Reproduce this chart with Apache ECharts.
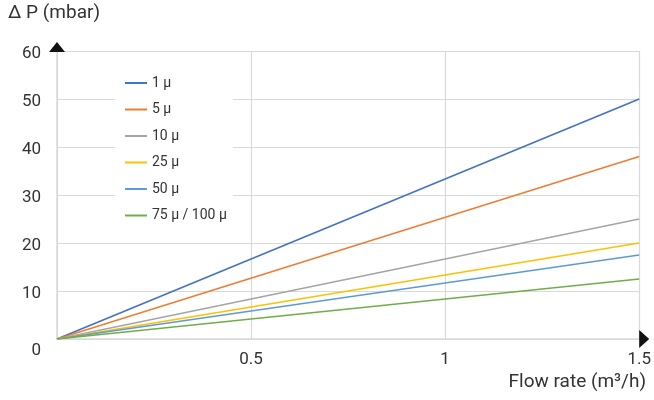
<!DOCTYPE html>
<html><head><meta charset="utf-8">
<script src="https://cdn.jsdelivr.net/npm/echarts@6/dist/echarts.min.js"></script>
<style>html,body{margin:0;padding:0;background:#fff}#c{width:654px;height:400px}</style>
</head><body><div id="c"></div>
<script>
const seriesNames = ['1 µ', '5 µ', '10 µ', '25 µ', '50 µ', '75 µ / 100 µ'];
const flowRates = [0, 1.5];
const dp1 = [0, 50];
const dp5 = [0, 38];
const dp10 = [0, 25];
const dp25 = [0, 20];
const dp50 = [0, 17.5];
const dp75 = [0, 12.5];
const xTicks = [0, 0.5, 1, 1.5];
const yTicks = [0, 10, 20, 30, 40, 50, 60];
const colors = ['#4472C4', '#ED7D31', '#A5A5A5', '#FFC000', '#5B9BD5', '#70AD47'];
const allData = [dp1, dp5, dp10, dp25, dp50, dp75];

const FONT = 'Roboto';
const chart = echarts.init(document.getElementById('c'));
const option = {
  animation: false,
  grid: {left: 57, right: 13, top: 51, bottom: 61, containLabel: false},
  xAxis: {
    type: 'value', min: xTicks[0], max: xTicks[xTicks.length - 1], interval: 0.5,
    axisLine: {show: true, lineStyle: {color: '#d9d9d9', width: 1.5}},
    axisTick: {show: false},
    splitLine: {show: true, lineStyle: {color: '#d9d9d9', width: 1.2}},
    axisLabel: {color: '#333', fontSize: 17, fontFamily: FONT, margin: 12,
      formatter: v => v === 0 ? '' : String(v)}
  },
  yAxis: {
    type: 'value', min: yTicks[0], max: yTicks[yTicks.length - 1], interval: 10,
    axisLine: {show: true, lineStyle: {color: '#d9d9d9', width: 1.5}},
    axisTick: {show: false},
    splitLine: {show: true, lineStyle: {color: '#d9d9d9', width: 1.2}},
    axisLabel: {color: '#333', fontSize: 17, fontFamily: FONT, margin: 16,
      formatter: v => v === 0 ? '{z|0}' : '{n|' + v + '}',
      rich: {
        z: {fontSize: 17, fontFamily: FONT, color: '#333', padding: [24, 0, 0, 0]},
        n: {fontSize: 17, fontFamily: FONT, color: '#333', padding: [5, 0, 0, 0]}
      }}
  },
  legend: {
    orient: 'vertical', left: 115, top: 73,
    padding: [3, 6, 3, 10], itemGap: 12.5,
    backgroundColor: '#fff',
    itemWidth: 22, itemHeight: 2, icon: 'rect',
    textStyle: {color: '#333', fontSize: 14, fontFamily: FONT},
    data: seriesNames
  },
  series: seriesNames.map((n, i) => ({
    name: n, type: 'line', symbol: 'none', showSymbol: false,
    lineStyle: {width: 1.6, color: colors[i]}, itemStyle: {color: colors[i]},
    data: flowRates.map((x, j) => [x, allData[i][j]])
  })),
  graphic: []
};
chart.setOption(option);
const pO = chart.convertToPixel({gridIndex: 0}, [0, 0]);
const pTop = chart.convertToPixel({gridIndex: 0}, [0, 60]);
const pRight = chart.convertToPixel({gridIndex: 0}, [1.5, 0]);
chart.setOption({graphic: [
  {type: 'polygon', shape: {points: [[pO[0] - 8, pTop[1] + 1], [pO[0] + 8, pTop[1] + 1], [pO[0], pTop[1] - 9]]}, style: {fill: '#111'}, z: 100},
  {type: 'polygon', shape: {points: [[pRight[0], pRight[1] - 9], [pRight[0], pRight[1] + 9], [pRight[0] + 10, pRight[1]]]}, style: {fill: '#111'}, z: 100},
  {type: 'text', left: 8, top: 4, style: {text: 'Δ P (mbar)', fontSize: 19, fontFamily: FONT, fill: '#333'}},
  {type: 'text', right: 8, top: 373, style: {text: 'Flow rate (m³/h)', fontSize: 19, fontFamily: FONT, fill: '#333'}}
]});
</script></body></html>
